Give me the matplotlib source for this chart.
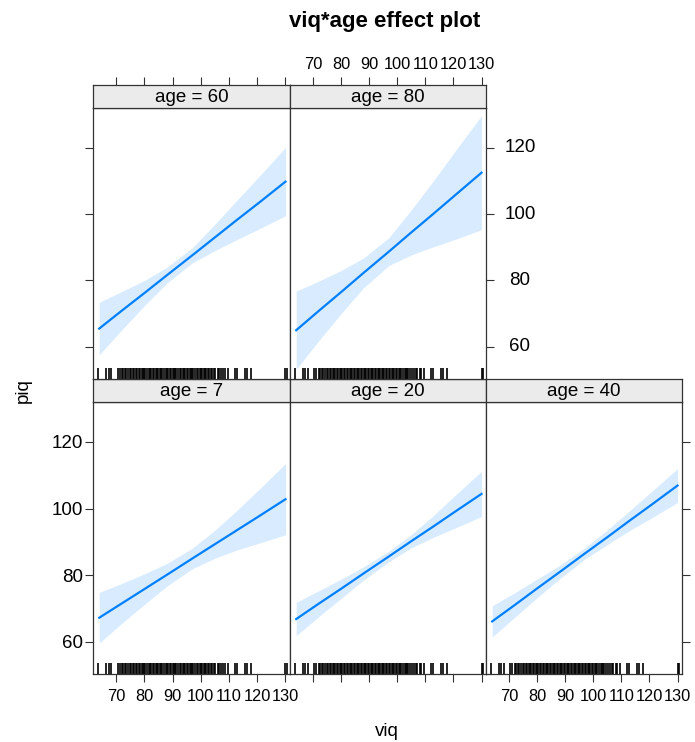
import numpy as np
import matplotlib
matplotlib.use('Agg')
import matplotlib.pyplot as plt
from matplotlib.transforms import blended_transform_factory

plt.rcParams['font.family'] = ['Liberation Sans', 'DejaVu Sans']

# effect estimates, evaluated at these viq values
viq_grid = [64, 72, 80, 88, 97, 105, 113, 121, 130]

fit_7 = [67.2, 71.5, 75.8, 80.1, 85.0, 89.3, 93.6, 97.9, 102.8]
lower_7 = [59.6, 65.5, 71.2, 76.7, 81.9, 85.1, 87.6, 89.7, 92.1]
upper_7 = [74.8, 77.5, 80.4, 83.5, 88.1, 93.5, 99.6, 106.1, 113.5]

fit_20 = [66.8, 71.4, 75.9, 80.5, 85.6, 90.2, 94.7, 99.3, 104.4]
lower_20 = [61.8, 67.5, 73.0, 78.5, 84.0, 88.2, 91.4, 94.3, 97.6]
upper_20 = [71.8, 75.3, 78.8, 82.5, 87.2, 92.2, 98.0, 104.3, 111.2]

fit_40 = [66.1, 71.0, 76.0, 80.9, 86.5, 91.4, 96.4, 101.3, 106.9]
lower_40 = [61.4, 67.3, 73.2, 78.9, 84.8, 89.2, 93.4, 97.3, 101.8]
upper_40 = [70.8, 74.7, 78.8, 82.9, 88.2, 93.6, 99.4, 105.3, 112.0]

fit_60 = [65.5, 70.9, 76.2, 81.6, 87.6, 93.0, 98.4, 103.7, 109.8]
lower_60 = [57.6, 65.1, 72.4, 79.2, 85.3, 89.0, 92.4, 95.7, 99.5]
upper_60 = [73.4, 76.7, 80.0, 84.0, 89.9, 97.0, 104.4, 111.7, 120.1]

fit_80 = [65.0, 70.8, 76.5, 82.3, 88.7, 94.5, 100.2, 106.0, 112.5]
lower_80 = [53.2, 61.8, 70.0, 77.8, 84.5, 87.7, 90.2, 92.5, 95.3]
upper_80 = [76.8, 79.8, 83.0, 86.8, 92.9, 101.3, 110.2, 119.5, 129.7]

# observed viq values (rug)
rug_viq = [63.7, 66.5, 67.3, 68.2, 70.5, 71.2, 72.0, 72.6, 73.1, 73.5, 74.2,
           75.0, 75.4, 76.0, 76.5, 77.0, 77.3, 78.0, 78.6, 79.0, 79.5, 80.0,
           80.4, 81.0, 81.5, 82.0, 82.3, 83.0, 83.5, 84.0, 84.6, 85.0, 85.5,
           86.0, 86.3, 87.0, 87.5, 88.0, 88.4, 89.0, 89.5, 90.0, 90.5, 91.0,
           91.3, 92.0, 92.5, 93.0, 93.6, 94.0, 94.5, 95.0, 95.4, 96.0, 96.5,
           97.0, 97.3, 98.0, 98.5, 99.0, 99.6, 100.0, 100.5, 101.0, 101.4,
           102.0, 102.6, 103.0, 103.5, 104.0, 104.5, 105.2, 106.0, 106.5,
           107.0, 108.0, 108.6, 109.5, 112.0, 112.8, 115.7, 116.3, 117.8,
           130.0, 130.5]

ages = [7, 20, 40, 60, 80]
fits = [fit_7, fit_20, fit_40, fit_60, fit_80]
lowers = [lower_7, lower_20, lower_40, lower_60, lower_80]
uppers = [upper_7, upper_20, upper_40, upper_60, upper_80]

x_ticks = [70, 80, 90, 100, 110, 120, 130]
y_ticks = [60, 80, 100, 120]

W, H = 695, 742
fig = plt.figure(figsize=(W / 100, H / 100), dpi=100)


def px_axes(l, t, r, b):
    return fig.add_axes([l / W, 1 - b / H, (r - l) / W, (b - t) / H])


col_edges = [(93, 290), (290, 486), (486, 682)]
row_edges = [(85, 108, 379), (379, 402, 674)]  # strip top, panel top, panel bottom
panel_pos = {60: (0, 0), 80: (0, 1), 7: (1, 0), 20: (1, 1), 40: (1, 2)}

line_col = '#0080ff'
frame_col = '#333333'
fs = 13.5
xfs = 11.8   # x tick labels are tightly packed
tick_len = 5.8

for age, fit, lo, up in zip(ages, fits, lowers, uppers):
    r, c = panel_pos[age]
    l, rr = col_edges[c]
    st, pt, pb = row_edges[r]
    ax = px_axes(l, pt, rr, pb)
    sax = px_axes(l, st, rr, pt)

    ax.fill_between(viq_grid, lo, up, color=line_col, alpha=0.15, lw=0)
    ax.plot(viq_grid, fit, color=line_col, lw=1.6)
    ax.vlines(rug_viq, 0, 0.042, transform=ax.get_xaxis_transform(),
              color='black', lw=1.2)
    ax.set_xlim(61.8, 131.6)
    ax.set_ylim(50.3, 132.0)
    ax.set_xticks(x_ticks)
    ax.set_yticks(y_ticks)

    sax.set_facecolor('#ebebeb')
    sax.set_xlim(61.8, 131.6)
    sax.set_xticks(x_ticks)
    sax.set_yticks([])
    sax.text(0.5, 0.45, 'age = %d' % age, transform=sax.transAxes,
             ha='center', va='center', fontsize=fs)

    for a in (ax, sax):
        for s in a.spines.values():
            s.set_color(frame_col)
            s.set_linewidth(0.9)

    for a in (ax, sax):
        a.tick_params(which='both', direction='out', length=tick_len, width=0.8,
                      color=frame_col, labelsize=fs,
                      bottom=False, top=False, left=False, right=False,
                      labelbottom=False, labeltop=False, labelleft=False,
                      labelright=False)
        a.tick_params(axis='x', labelsize=xfs)

    if r == 1:
        ax.tick_params(axis='x', bottom=True, labelbottom=(c != 1), pad=5)
    else:
        sax.tick_params(axis='x', top=True, labeltop=(c == 1), pad=3.5)
    if c == 0:
        ax.tick_params(axis='y', left=True, labelleft=(r == 1), pad=1.5)
    last_col = 1 if r == 0 else 2
    if c == last_col:
        ax.tick_params(axis='y', right=True)
        if r == 0:
            tr = blended_transform_factory(ax.transAxes, ax.transData)
            for yv in y_ticks:
                ax.text(1 + 34 / (rr - l), yv, str(yv), transform=tr,
                        ha='center', va='center', fontsize=fs)

fig.text(385 / W, 1 - 21 / H, 'viq*age effect plot', ha='center', va='center',
         fontsize=16, fontweight='bold')
fig.text(387 / W, 1 - 731 / H, 'viq', ha='center', va='center', fontsize=fs)
fig.text(23 / W, 1 - 391 / H, 'piq', ha='center', va='center', fontsize=fs,
         rotation=90)

fig.savefig('out.png', dpi=100)
